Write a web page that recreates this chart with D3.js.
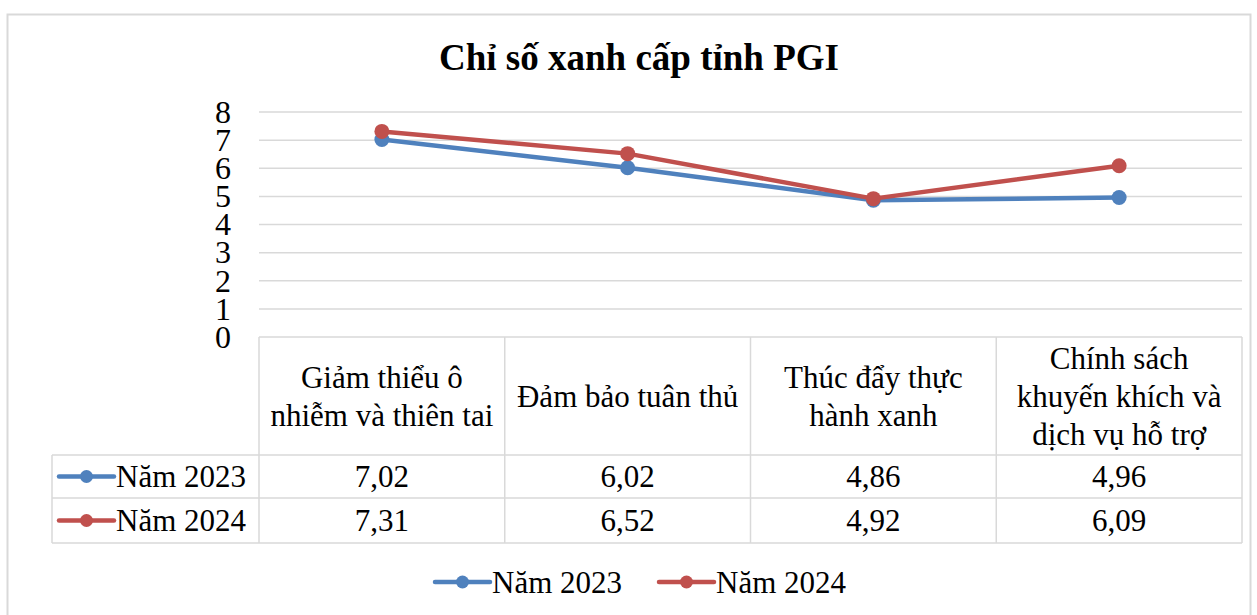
<!DOCTYPE html>
<html>
<head>
<meta charset="utf-8">
<script src="https://cdn.jsdelivr.net/npm/d3@7"></script>
<style>
  body { margin: 0; background: #fff; }
  text { font-family: "Liberation Serif", "Times New Roman", serif; fill: #000; }
</style>
</head>
<body>
<script>
// data
var categories = [
  ["Giảm thiểu ô", "nhiễm và thiên tai"],
  ["Đảm bảo tuân thủ"],
  ["Thúc đẩy thực", "hành xanh"],
  ["Chính sách", "khuyến khích và", "dịch vụ hỗ trợ"]
];
var seriesNames = ["Năm 2023", "Năm 2024"];
var values2023 = [7.02, 6.02, 4.86, 4.96];
var values2024 = [7.31, 6.52, 4.92, 6.09];
var yTicks = [0, 1, 2, 3, 4, 5, 6, 7, 8];
var colors = ["#4F81BD", "#C0504D"];

var width = 1257, height = 615;
var series = [values2023, values2024];
var catKeys = categories.map(function (c) { return c.join(" "); });

var svg = d3.select("body").append("svg")
  .attr("width", width)
  .attr("height", height);

// chart border
svg.append("rect")
  .attr("x", 7.5).attr("y", 14.5)
  .attr("width", 1243).attr("height", 640)
  .attr("fill", "none").attr("stroke", "#d9d9d9").attr("stroke-width", 2);

// title
svg.append("text")
  .attr("x", 639).attr("y", 70)
  .attr("text-anchor", "middle")
  .style("font-size", "37px").style("font-weight", "bold")
  .text("Chỉ số xanh cấp tỉnh PGI");

var x = d3.scaleBand().domain(catKeys).range([259, 1242]);
var y = d3.scaleLinear().domain([0, 8]).range([337, 112]);
var cx = function (i) { return x(catKeys[i]) + x.bandwidth() / 2; };

// gridlines
svg.append("g").selectAll("line")
  .data(yTicks.filter(function (d) { return d > 0; }))
  .enter().append("line")
  .attr("x1", 259).attr("x2", 1242)
  .attr("y1", function (d) { return y(d); })
  .attr("y2", function (d) { return y(d); })
  .attr("stroke", "#d9d9d9").attr("stroke-width", 1.5);

// y axis labels
var yAxis = svg.append("g")
  .attr("transform", "translate(259,0)")
  .call(d3.axisLeft(y).tickValues(yTicks).tickSize(0).tickPadding(28).tickFormat(d3.format("d")));
yAxis.select(".domain").remove();
yAxis.selectAll("text")
  .style("font-family", "'Liberation Serif', 'Times New Roman', serif")
  .style("font-size", "32px").attr("fill", "#000");

// data table
var rowTop = 337, headBottom = 455, row1Bottom = 498, row2Bottom = 543, labelLeft = 52;
var grid = svg.append("g").attr("stroke", "#d9d9d9").attr("stroke-width", 1.5);
grid.append("line").attr("x1", 259).attr("x2", 1242).attr("y1", rowTop).attr("y2", rowTop);
[headBottom, row1Bottom, row2Bottom].forEach(function (yy) {
  grid.append("line").attr("x1", labelLeft).attr("x2", 1242).attr("y1", yy).attr("y2", yy);
});
grid.append("line").attr("x1", labelLeft).attr("x2", labelLeft).attr("y1", headBottom).attr("y2", row2Bottom);
catKeys.forEach(function (k, i) {
  grid.append("line").attr("x1", x(k)).attr("x2", x(k)).attr("y1", rowTop).attr("y2", row2Bottom);
});
grid.append("line").attr("x1", 1242).attr("x2", 1242).attr("y1", rowTop).attr("y2", row2Bottom);

// header labels
var lineH = 38;
categories.forEach(function (lines, i) {
  var t = svg.append("text")
    .attr("text-anchor", "middle")
    .style("font-size", "31px");
  var y0 = (rowTop + headBottom) / 2 - (lines.length - 1) * lineH / 2;
  lines.forEach(function (l, j) {
    t.append("tspan").attr("x", cx(i)).attr("y", y0 + j * lineH).attr("dy", "0.35em").text(l);
  });
});

// row values
var fmt = function (v) { return d3.format(".2f")(v).replace(".", ","); };
var rowCenters = [(headBottom + row1Bottom) / 2, (row1Bottom + row2Bottom) / 2];
series.forEach(function (vals, s) {
  svg.append("g").selectAll("text")
    .data(vals).enter().append("text")
    .attr("x", function (d, i) { return cx(i); })
    .attr("y", rowCenters[s]).attr("dy", "0.35em")
    .attr("text-anchor", "middle")
    .style("font-size", "31px")
    .text(fmt);
});

function legendKey(g, x0, yy, color) {
  g.append("line").attr("x1", x0).attr("x2", x0 + 55).attr("y1", yy).attr("y2", yy)
    .attr("stroke", color).attr("stroke-width", 4.5).attr("stroke-linecap", "round");
  g.append("circle").attr("cx", x0 + 27.5).attr("cy", yy).attr("r", 6.5).attr("fill", color);
}

// row legend keys
series.forEach(function (vals, s) {
  legendKey(svg, 59, rowCenters[s], colors[s]);
  svg.append("text").attr("x", 116).attr("y", rowCenters[s]).attr("dy", "0.35em")
    .style("font-size", "31px").text(seriesNames[s]);
});

// lines
var line = d3.line()
  .x(function (d, i) { return cx(i); })
  .y(function (d) { return y(d); });
series.forEach(function (vals, s) {
  svg.append("path").datum(vals)
    .attr("d", line)
    .attr("fill", "none").attr("stroke", colors[s]).attr("stroke-width", 4.5)
    .attr("stroke-linejoin", "round");
  svg.append("g").selectAll("circle")
    .data(vals).enter().append("circle")
    .attr("cx", function (d, i) { return cx(i); })
    .attr("cy", function (d) { return y(d); })
    .attr("r", 7.5).attr("fill", colors[s]);
});

// bottom legend
var legendX = [435, 659];
series.forEach(function (vals, s) {
  legendKey(svg, legendX[s], 582, colors[s]);
  svg.append("text").attr("x", legendX[s] + 57).attr("y", 582).attr("dy", "0.35em")
    .style("font-size", "31px").text(seriesNames[s]);
});
</script>
</body>
</html>
